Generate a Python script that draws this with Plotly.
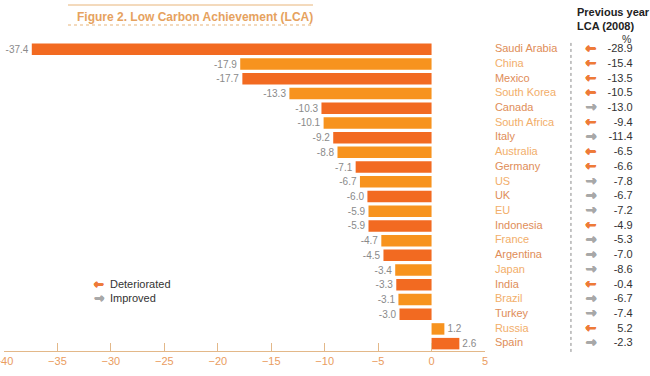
import plotly.graph_objects as go

countries = ["Saudi Arabia", "China", "Mexico", "South Korea", "Canada", "South Africa",
             "Italy", "Australia", "Germany", "US", "UK", "EU", "Indonesia", "France",
             "Argentina", "Japan", "India", "Brazil", "Turkey", "Russia", "Spain"]
lca_2009 = [-37.4, -17.9, -17.7, -13.3, -10.3, -10.1, -9.2, -8.8, -7.1, -6.7, -6.0,
            -5.9, -5.9, -4.7, -4.5, -3.4, -3.3, -3.1, -3.0, 1.2, 2.6]
lca_2008 = [-28.9, -15.4, -13.5, -10.5, -13.0, -9.4, -11.4, -6.5, -6.6, -7.8, -6.7,
            -7.2, -4.9, -5.3, -7.0, -8.6, -0.4, -6.7, -7.4, 5.2, -2.3]
trend = ["D", "D", "D", "D", "I", "D", "I", "D", "D", "I", "I", "I", "D", "I",
         "I", "I", "D", "I", "I", "D", "I"]
x_ticks = [-40, -35, -30, -25, -20, -15, -10, -5, 0, 5]

DARK = "#F26A21"
LIGHT = "#F7931E"
LAB_DARK = "#E08D58"
LAB_LIGHT = "#F2AE6A"
ARROW_D = "#EE7A38"
ARROW_I = "#A8A8A8"
FONT = "Liberation Sans, Arial, sans-serif"


def thick(c):
    return f"0.5px 0 0 {c}, -0.5px 0 0 {c}, 0 0.5px 0 {c}, 0 -0.5px 0 {c}"


bar_colors = [DARK if i % 2 == 0 else LIGHT for i in range(len(countries))]
label_colors = [LAB_DARK if i % 2 == 0 else LAB_LIGHT for i in range(len(countries))]

fig = go.Figure()

fig.add_trace(go.Bar(
    y=countries, x=lca_2009, orientation="h",
    marker=dict(color=bar_colors, line=dict(width=0)),
    text=[f"{v:.1f}" for v in lca_2009], textposition="outside",
    constraintext="none",
    textfont=dict(color="#8a8a8a", size=10, family=FONT),
    cliponaxis=False, xaxis="x", yaxis="y", showlegend=False, hoverinfo="skip",
))

# right-hand table
fig.add_trace(go.Scatter(
    x=[0.06] * len(countries), y=countries, mode="text", text=countries,
    textposition="middle right", textfont=dict(color=label_colors, size=11, family=FONT),
    xaxis="x2", yaxis="y", showlegend=False, hoverinfo="skip", cliponaxis=False,
))
for code, ch, col in [("D", "\u2190", ARROW_D), ("I", "\u2192", ARROW_I)]:
    ys = [c for c, t in zip(countries, trend) if t == code]
    fig.add_trace(go.Scatter(
        x=[0.642] * len(ys), y=ys, mode="text", text=[ch] * len(ys),
        textposition="middle center",
        textfont=dict(color=col, size=13, family="DejaVu Sans", weight="bold",
                      shadow=thick(col)),
        xaxis="x2", yaxis="y", showlegend=False, hoverinfo="skip", cliponaxis=False,
    ))
fig.add_trace(go.Scatter(
    x=[0.895] * len(countries), y=countries, mode="text",
    text=[f"{v:.1f}" for v in lca_2008],
    textposition="middle left", textfont=dict(color="#333333", size=11, family=FONT),
    xaxis="x2", yaxis="y", showlegend=False, hoverinfo="skip", cliponaxis=False,
))

x_split = (485 - 4) / 646

fig.update_layout(
    width=650, height=376,
    margin=dict(l=4, r=0, t=42, b=25, autoexpand=False),
    paper_bgcolor="white", plot_bgcolor="white",
    bargap=0.22,
    font=dict(family=FONT),
    xaxis=dict(
        domain=[0, x_split], range=[-40, 5], autorange=False, tickvals=x_ticks,
        ticks="inside", ticklen=8, tickcolor="#E3B889", tickwidth=1,
        showline=True, linecolor="#E3B889", linewidth=1,
        showgrid=False, zeroline=False, automargin=False,
        ticklabeloverflow="allow",
        tickfont=dict(color="#EA9C60", size=11, family=FONT),
    ),
    xaxis2=dict(domain=[x_split, 1], range=[0, 1], autorange=False, visible=False, anchor="y"),
    yaxis=dict(
        categoryorder="array", categoryarray=countries, autorange=False,
        range=[20.5, -0.5], showticklabels=False, showgrid=False, zeroline=False,
        showline=False, ticks="", automargin=False,
    ),
)

# dotted separator in table
fig.add_shape(type="line", xref="x2", yref="paper", x0=0.521, x1=0.521, y0=-0.003, y1=1.0,
              line=dict(color="#8a8a8a", width=1, dash="dot"))

# title and rules
fig.add_shape(type="line", xref="paper", yref="paper",
              x0=(68 - 4) / 646, x1=(313 - 4) / 646, y0=1 + 37 / 309, y1=1 + 37 / 309,
              line=dict(color="#E8B57A", width=1))
fig.add_shape(type="line", xref="paper", yref="paper",
              x0=(68 - 4) / 646, x1=(313 - 4) / 646, y0=1 + 17 / 309, y1=1 + 17 / 309,
              line=dict(color="#E8B57A", width=1, dash="dot"))
fig.add_annotation(text="<b>Figure 2. Low Carbon Achievement (LCA)</b>",
                   xref="paper", yref="paper", x=(75 - 4) / 646, y=1 + 25 / 309,
                   xanchor="left", yanchor="middle", showarrow=False,
                   font=dict(color="#E6A25E", size=12, family=FONT))

# table header
fig.add_annotation(text="<b>Previous year<br>LCA (2008)</b>", xref="x2", yref="paper",
                   x=0.545, y=1 + 23 / 309, xanchor="left", yanchor="middle",
                   align="left", showarrow=False,
                   font=dict(color="#222222", size=11, family=FONT))
fig.add_annotation(text="%", xref="x2", yref="paper",
                   x=0.895, y=1 + 3 / 309, xanchor="right", yanchor="middle",
                   showarrow=False, font=dict(color="#333333", size=10.5, family=FONT))

# legend
for label, ch, col, ypx in [("Deteriorated", "\u2190", ARROW_D, 284),
                            ("Improved", "\u2192", ARROW_I, 298)]:
    fig.add_annotation(text=ch, xref="paper", yref="paper", x=(99 - 4) / 646,
                       y=(351 - ypx) / 309, xanchor="center", yanchor="middle",
                       showarrow=False,
                       font=dict(color=col, size=12, family="DejaVu Sans", weight="bold",
                                 shadow=thick(col)))
    fig.add_annotation(text=label, xref="paper", yref="paper", x=(108 - 4) / 646,
                       y=(351 - ypx) / 309, xanchor="left", yanchor="middle",
                       showarrow=False, font=dict(color="#333333", size=11, family=FONT))

fig.write_html("out.html", config={"displayModeBar": False},
               post_script="document.body.style.margin='0px';")
